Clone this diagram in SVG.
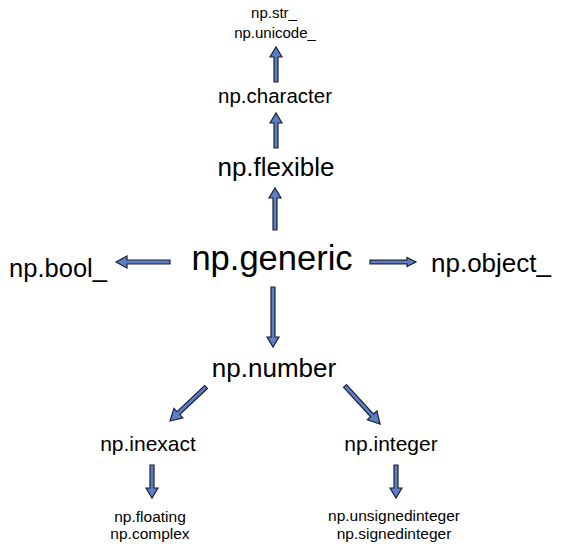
<svg xmlns="http://www.w3.org/2000/svg" width="566" height="553" viewBox="0 0 566 553">
<style>
text{font-family:"Liberation Sans",Arial,sans-serif;fill:#000;text-anchor:middle}
.arr{fill:#5b7ec6;stroke:#1b2130;stroke-width:1.2;stroke-linejoin:miter}
</style>
<rect width="566" height="553" fill="#fff"/>
<g id="connectors">
<g transform="translate(276,82) rotate(-90)"><path class="arr" d="M0,-2 H25 V-6 L35,0 L25,6 V2 H0 Z"/></g>
<g transform="translate(276,148) rotate(-90)"><path class="arr" d="M0,-2 H25 V-6 L35,0 L25,6 V2 H0 Z"/></g>
<g transform="translate(275,230) rotate(-90)"><path class="arr" d="M0,-2 H32 V-6 L42,0 L32,6 V2 H0 Z"/></g>
<g transform="translate(170,262) rotate(180)"><path class="arr" d="M0,-2 H43 V-6 L54,0 L43,6 V2 H0 Z"/></g>
<g transform="translate(370,262)"><path class="arr" d="M0,-1.8 H37 V-4.5 L46,0 L37,4.5 V1.8 H0 Z"/></g>
<g transform="translate(273,287) rotate(90)"><path class="arr" d="M0,-2 H50 V-6 L60,0 L50,6 V2 H0 Z"/></g>
<g transform="translate(206,387) rotate(136.6)"><path class="arr" d="M0,-2 H38 V-6.5 L49.5,0 L38,6.5 V2 H0 Z"/></g>
<g transform="translate(345,386) rotate(47.3)"><path class="arr" d="M0,-2 H40 V-6.5 L51.7,0 L40,6.5 V2 H0 Z"/></g>
<g transform="translate(152,465) rotate(90)"><path class="arr" d="M0,-2 H23 V-6 L33,0 L23,6 V2 H0 Z"/></g>
<g transform="translate(396,465) rotate(90)"><path class="arr" d="M0,-2 H23 V-6 L33,0 L23,6 V2 H0 Z"/></g>
</g>
<g id="str"><text x="274" y="18" font-size="15">np.str_</text><text x="275" y="38" font-size="15">np.unicode_</text></g>
<g id="character"><text x="275" y="103" font-size="20.5">np.character</text></g>
<g id="flexible"><text x="276" y="176" font-size="26">np.flexible</text></g>
<g id="generic"><text x="272" y="270" font-size="34.5">np.generic</text></g>
<g id="bool"><text x="58" y="277" font-size="25.5">np.bool_</text></g>
<g id="object"><text x="491" y="272" font-size="26">np.object_</text></g>
<g id="number"><text x="274" y="377" font-size="26">np.number</text></g>
<g id="inexact"><text x="148" y="451" font-size="21">np.inexact</text></g>
<g id="integer"><text x="391" y="451" font-size="21">np.integer</text></g>
<g id="floating"><text x="150" y="522" font-size="15.5">np.floating</text><text x="150" y="539" font-size="15.5">np.complex</text></g>
<g id="signed"><text x="394" y="521" font-size="15.5">np.unsignedinteger</text><text x="394" y="539" font-size="15.5">np.signedinteger</text></g>
</svg>
